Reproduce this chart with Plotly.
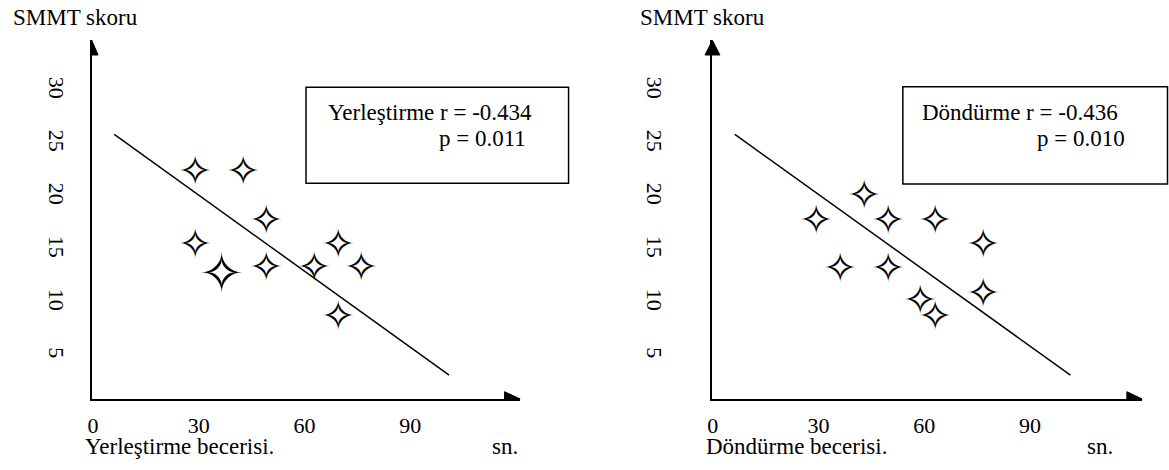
import plotly.graph_objects as go

W, H = 1169, 470
FONT = "Liberation Serif"

# ---------------- data ----------------
x_ticks = [0, 30, 60, 90]
y_ticks = [5, 10, 15, 20, 25, 30]

left_x = [30.0, 43.4, 50.1, 29.9, 37.7, 50.1, 70.4, 63.6, 77.1, 70.4]
left_y = [22.6, 22.6, 18.0, 15.7, 13.0, 13.5, 15.7, 13.5, 13.5, 8.9]
left_fit_x = [6.0, 101.0]
left_fit_y = [25.9, 3.2]

right_x = [43.9, 30.3, 50.6, 64.2, 77.8, 37.1, 50.6, 59.7, 64.2, 77.8]
right_y = [20.3, 18.0, 18.0, 18.0, 15.7, 13.4, 13.4, 10.4, 8.9, 11.1]
right_fit_x = [6.3, 101.5]
right_fit_y = [25.9, 3.2]

left_title = "Yerleştirme becerisi."
right_title = "Döndürme becerisi."
y_title = "SMMT skoru"
unit = "sn."
left_stats = ["Yerleştirme r = -0.434", "p = 0.011"]
right_stats = ["Döndürme r = -0.436", "p = 0.010"]

# ---------------- helpers ----------------
def px(x):
    return x / W

def py(y):
    return 1 - y / H

STAR = "\u2727"
left_sizes = [41, 41, 41, 41, 54, 41, 41, 41, 41, 41]
right_sizes = [41] * 10

fig = go.Figure()

def add_panel(xs, ys, sizes, fx, fy, xa, ya):
    fig.add_trace(go.Scatter(
        x=fx, y=fy, mode="lines", xaxis=xa, yaxis=ya,
        line=dict(color="black", width=1.5), showlegend=False, hoverinfo="skip"))
    # star symbols placed at the data points through the axes
    for xv, yv, s in zip(xs, ys, sizes):
        fig.add_annotation(
            x=xv, y=yv, xref=xa, yref=ya, text=STAR, showarrow=False,
            xanchor="center", yanchor="middle", borderpad=0,
            xshift=-3.5 * s / 41, yshift=-1.5 * s / 41,
            font=dict(family="DejaVu Sans", size=s, color="black"))

add_panel(left_x, left_y, left_sizes, left_fit_x, left_fit_y, "x", "y")
add_panel(right_x, right_y, right_sizes, right_fit_x, right_fit_y, "x2", "y2")

def yrange(bottom_px, top_px, v30_px=91.0, ppu=10.6):
    return [30 - (bottom_px - v30_px) / ppu, 30 + (v30_px - top_px) / ppu]

def xrange(left_px, right_px, zero_px, ppu):
    return [(left_px - zero_px) / ppu, (right_px - zero_px) / ppu]

tickfont = dict(family=FONT, size=22, color="black")
common_x = dict(showline=True, linecolor="black", linewidth=1.5, showgrid=False,
                zeroline=False, tickvals=x_ticks, ticks="", tickfont=tickfont,
                ticklabelstandoff=6, fixedrange=True)
common_y = dict(showline=True, linecolor="black", linewidth=1.5, showgrid=False,
                zeroline=False, tickvals=y_ticks, ticks="", tickfont=tickfont,
                tickangle=90, fixedrange=True)

fig.update_layout(
    width=W, height=H, autosize=False,
    margin=dict(l=0, r=0, t=0, b=0),
    paper_bgcolor="white", plot_bgcolor="white",
    xaxis=dict(domain=[px(87), px(517)], range=xrange(87, 517, 88.5, 3.54),
               anchor="y", **common_x),
    yaxis=dict(domain=[py(399), py(40)], range=yrange(399, 40),
               anchor="x", ticklabelstandoff=14, **common_y),
    xaxis2=dict(domain=[px(710.5), px(1142)], range=xrange(710.5, 1142, 710.7, 3.54),
                anchor="y2", **common_x),
    yaxis2=dict(domain=[py(399), py(40)], range=yrange(399, 40),
                anchor="x2", ticklabelstandoff=37, **common_y),
)

shapes = []
def path(points):
    s = "M " + " L ".join(f"{px(a):.5f},{py(b):.5f}" for a, b in points) + " Z"
    return dict(type="path", path=s, xref="paper", yref="paper",
                fillcolor="black", line=dict(color="black", width=1))

# arrowheads
shapes.append(path([(501.7, 391.7), (517.3, 399), (501.7, 399)]))
shapes.append(path([(1126.7, 391.7), (1142, 399), (1126.7, 399)]))
shapes.append(path([(87, 40), (93.5, 55), (87, 55)]))
shapes.append(path([(710.5, 40.5), (718, 55), (703, 55)]))

# stat boxes
for (x0, y0, x1, y1) in [(302.3, 87.3, 566, 183.3), (901.7, 86.7, 1167.5, 184)]:
    shapes.append(dict(type="rect", xref="paper", yref="paper",
                       x0=px(x0), x1=px(x1), y0=py(y1), y1=py(y0),
                       line=dict(color="black", width=1.5), fillcolor="rgba(0,0,0,0)"))
fig.update_layout(shapes=shapes)

def label(text, x, y, size=23):
    fig.add_annotation(text=text, x=px(x), y=py(y), xref="paper", yref="paper",
                       xanchor="left", yanchor="middle", showarrow=False,
                       borderpad=0, font=dict(family=FONT, size=size, color="black"))

label(y_title, 7, 17)
label(y_title, 637, 17)
label(left_title, 79, 446)
label(right_title, 703, 446)
label(unit, 488, 446)
label(unit, 1086, 446)
label(left_stats[0], 323, 112)
label(left_stats[1], 435, 139)
label(right_stats[0], 920, 113)
label(right_stats[1], 1035, 138)

fig.write_html("out.html")
